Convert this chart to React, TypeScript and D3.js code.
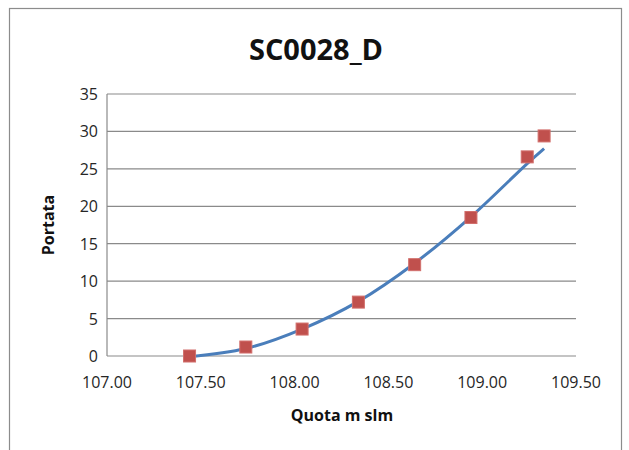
import * as d3 from 'd3';
import { useEffect, useRef } from 'react';

// measured points (quota m slm -> portata)
const quota: number[] = [107.44, 107.74, 108.04, 108.34, 108.64, 108.94, 109.24, 109.33];
const portata: number[] = [0, 1.2, 3.6, 7.2, 12.2, 18.5, 26.6, 29.4];

// rating curve (smoothed line) at the same quote
const curveQuota: number[] = [107.44, 107.74, 108.04, 108.34, 108.64, 108.94, 109.24, 109.33];
const curvePortata: number[] = [-0.1, 1.0, 3.6, 7.3, 12.4, 18.6, 25.7, 27.7];

const xTicks: number[] = [107.0, 107.5, 108.0, 108.5, 109.0, 109.5];
const yTicks: number[] = [0, 5, 10, 15, 20, 25, 30, 35];

const title = 'SC0028_D';
const xTitle = 'Quota m slm';
const yTitle = 'Portata';

const App = () => {
    const ref = useRef<SVGSVGElement | null>(null);

    useEffect(() => {
        drawChart();
    }, []);

    const drawChart = () => {
        const width = 629;
        const height = 450;
        const font = "'Open Sans', 'Noto Sans', sans-serif";
        const left = 107, right = 576, top = 94, bottom = 356;

        const svg = d3.select(ref.current);
        svg.selectAll('*').remove();

        svg.append('rect')
            .attr('width', width).attr('height', height).attr('fill', '#fff');

        // outer chart border
        svg.append('rect')
            .attr('x', 9.5).attr('y', 8.5)
            .attr('width', 612).attr('height', 460)
            .attr('fill', 'none')
            .attr('stroke', '#8c8c8c')
            .attr('stroke-width', 1.2);

        const x = d3.scaleLinear().domain([107, 109.5]).range([left, right]);
        const y = d3.scaleLinear().domain([0, 35]).range([bottom, top]);

        // gridlines
        svg.selectAll('.grid')
            .data(yTicks)
            .enter()
            .append('line')
            .attr('x1', left).attr('x2', right)
            .attr('y1', (d: number) => y(d)).attr('y2', (d: number) => y(d))
            .attr('stroke', '#8a8a8a')
            .attr('stroke-width', 1.2);

        svg.append('line')
            .attr('x1', left).attr('x2', left)
            .attr('y1', top).attr('y2', bottom)
            .attr('stroke', '#8a8a8a')
            .attr('stroke-width', 1.2);

        // tick labels
        svg.selectAll('.ylab')
            .data(yTicks)
            .enter()
            .append('text')
            .attr('x', left - 9)
            .attr('y', (d: number) => y(d) + 6)
            .attr('text-anchor', 'end')
            .style('font-family', font)
            .style('font-size', '16px')
            .style('fill', '#262626')
            .text((d: number) => d);

        svg.selectAll('.xlab')
            .data(xTicks)
            .enter()
            .append('text')
            .attr('x', (d: number) => x(d))
            .attr('y', bottom + 32)
            .attr('text-anchor', 'middle')
            .style('font-family', font)
            .style('font-size', '16px')
            .style('fill', '#262626')
            .text((d: number) => d.toFixed(2));

        // titles
        svg.append('text')
            .attr('x', 316).attr('y', 60)
            .attr('text-anchor', 'middle')
            .style('font-family', font)
            .style('font-size', '29px')
            .style('font-weight', 700)
            .style('fill', '#111')
            .text(title);

        svg.append('text')
            .attr('x', 342).attr('y', 421)
            .attr('text-anchor', 'middle')
            .style('font-family', font)
            .style('font-size', '16px')
            .style('font-weight', 700)
            .style('fill', '#111')
            .text(xTitle);

        svg.append('text')
            .attr('transform', `translate(54, ${(top + bottom) / 2}) rotate(-90)`)
            .attr('text-anchor', 'middle')
            .style('font-family', font)
            .style('font-size', '16px')
            .style('font-weight', 700)
            .style('fill', '#111')
            .text(yTitle);

        // rating curve
        const line = d3.line<number>()
            .x((d: number) => x(d))
            .y((_d: number, i: number) => y(curvePortata[i]))
            .curve(d3.curveCatmullRom.alpha(0.5));
        svg.append('path')
            .attr('d', line(curveQuota))
            .attr('fill', 'none')
            .attr('stroke', '#4a7ebb')
            .attr('stroke-width', 3);

        // markers
        const size = 12;
        svg.selectAll('.pt')
            .data(quota)
            .enter()
            .append('rect')
            .attr('x', (d: number) => x(d) - size / 2)
            .attr('y', (_d: number, i: number) => y(portata[i]) - size / 2)
            .attr('width', size).attr('height', size)
            .attr('fill', '#c0504d')
            .attr('stroke', '#d26f6c')
            .attr('stroke-width', 1);
    };

    return (
        <svg ref={ref} width={629} height={450}
            style={{ position: 'absolute', left: 0, top: 0, display: 'block' }} />
    );
};

export default App;
